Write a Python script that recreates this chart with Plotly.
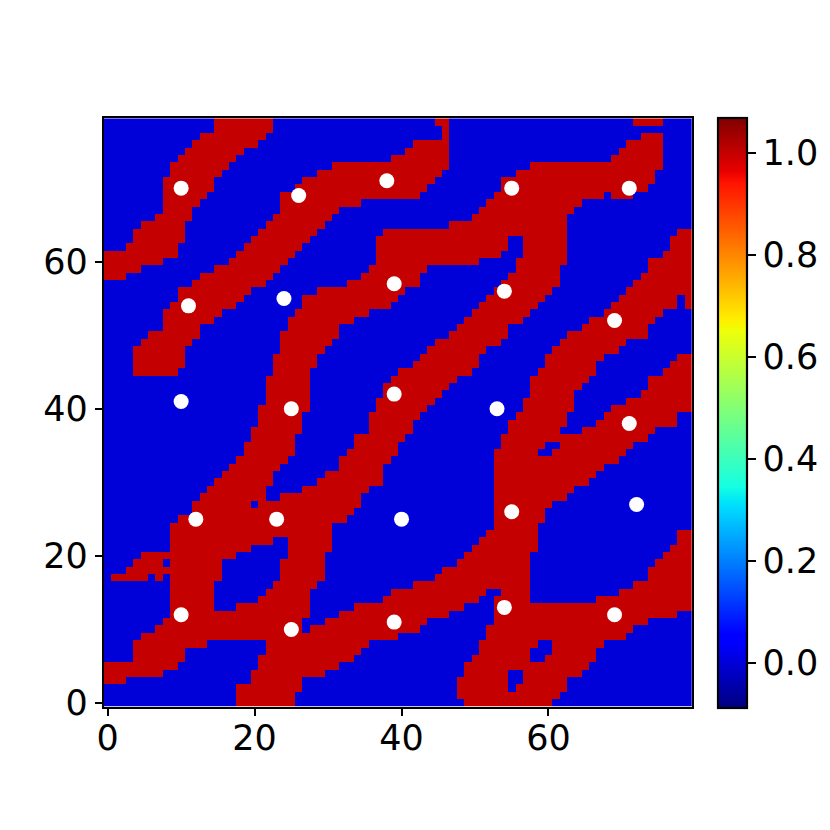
import numpy as np
import plotly.graph_objects as go

# red runs [start, end) per row, listed from row 79 (top) down to row 0
red_runs = [
 [(15,23),(45,47),(72,76)],
 [(15,23),(46,47)],
 [(13,22),(46,47),(73,76)],
 [(12,21),(42,47),(71,76)],
 [(11,19),(41,47),(70,76)],
 [(10,18),(39,47),(69,76)],
 [(9,17),(31,47),(58,76)],
 [(9,16),(29,46),(56,75)],
 [(8,15),(27,45),(54,75)],
 [(8,15),(26,44),(54,74)],
 [(8,14),(24,43),(53,68),(69,72)],
 [(8,13),(24,35),(52,65)],
 [(8,12),(24,32),(51,64)],
 [(7,12),(23,31),(50,63)],
 [(5,11),(22,30),(47,63)],
 [(4,11),(21,29),(38,63),(78,80)],
 [(4,11),(20,28),(37,55),(57,63),(77,80)],
 [(3,10),(19,27),(37,55),(57,63),(77,80)],
 [(0,10),(18,26),(37,54),(57,63),(76,80)],
 [(0,8),(17,25),(37,51),(56,63),(74,80)],
 [(0,5),(15,24),(36,44),(56,62),(74,80)],
 [(0,3),(13,23),(35,43),(55,62),(73,80)],
 [(12,22),(33,43),(54,62),(72,80)],
 [(10,20),(29,41),(53,61),(71,80)],
 [(10,19),(27,40),(52,60),(70,78),(79,80)],
 [(9,18),(27,39),(51,59),(69,78),(79,80)],
 [(8,16),(26,36),(50,58),(68,76)],
 [(8,15),(25,34),(49,57),(66,75)],
 [(8,13),(25,32),(48,55),(65,74)],
 [(6,13),(24,32),(47,55),(63,74)],
 [(5,12),(24,31),(45,54),(62,71)],
 [(4,11),(24,30),(44,52),(61,70)],
 [(4,11),(23,29),(43,51),(60,68),(78,80)],
 [(4,11),(23,29),(42,51),(60,67),(77,80)],
 [(4,10),(23,28),(40,50),(59,67),(76,80)],
 [(22,28),(39,48),(58,66),(74,80)],
 [(22,28),(38,47),(58,65),(74,80)],
 [(22,28),(38,46),(58,64),(73,80)],
 [(22,28),(37,45),(57,64),(71,80)],
 [(21,28),(37,44),(57,64),(69,80)],
 [(21,27),(36,43),(56,63),(68,78)],
 [(21,27),(36,42),(55,63),(67,78)],
 [(20,27),(36,42),(55,62),(65,75)],
 [(20,26),(34,41),(54,74)],
 [(19,26),(34,40),(54,60),(62,72)],
 [(19,26),(33,40),(53,59),(61,71)],
 [(18,25),(32,39),(53,70)],
 [(17,24),(32,38),(53,68)],
 [(16,23),(30,38),(53,67)],
 [(15,23),(29,38),(53,66)],
 [(14,22),(27,36),(53,64)],
 [(13,22),(24,35),(53,63)],
 [(12,20),(21,35),(53,61)],
 [(12,34),(53,60)],
 [(10,33),(53,60)],
 [(9,31),(53,59)],
 [(9,31),(52,59),(78,80)],
 [(9,23),(25,31),(51,59),(78,80)],
 [(9,20),(25,31),(50,59),(77,80)],
 [(5,18),(25,30),(49,58),(76,80)],
 [(4,8),(9,16),(24,30),(48,58),(75,80)],
 [(3,16),(24,30),(46,58),(74,80)],
 [(1,6),(7,8),(9,16),(24,30),(45,58),(74,80)],
 [(9,15),(23,29),(42,58),(72,80)],
 [(9,15),(22,28),(39,52),(54,58),(70,80)],
 [(9,15),(21,28),(38,51),(53,58),(67,80)],
 [(9,15),(18,28),(34,49),(53,80)],
 [(9,28),(32,47),(53,78)],
 [(8,27),(30,44),(53,74)],
 [(7,27),(28,43),(52,72)],
 [(5,40),(52,71)],
 [(4,14),(22,36),(51,59),(61,68)],
 [(4,11),(22,35),(51,58),(61,67)],
 [(4,11),(21,34),(50,58),(60,67)],
 [(0,10),(21,32),(49,66)],
 [(0,8),(20,30),(49,55),(57,65)],
 [(0,3),(20,27),(48,55),(57,63)],
 [(18,27),(48,55),(56,63)],
 [(18,26),(48,62)],
 [(18,26),(49,61)],
]
dots_x = [10,26,38,55,71,11,24,39,54,69,10,25,39,53,71,12,23,40,55,72,10,25,39,54,69]
dots_y = [70,69,71,70,70,54,55,57,56,52,41,40,42,40,38,25,25,25,26,27,12,10,11,13,12]
axis_ticks = [0, 20, 40, 60]
cbar_ticks = [0.0, 0.2, 0.4, 0.6, 0.8, 1.0]
z_low, z_high = -0.089, 1.069

grid = np.zeros((80, 80))
for i, runs in enumerate(red_runs):
    for a, b in runs:
        grid[79 - i, a:b] = 1.0

# matplotlib jet expressed as plotly stops
r = [(0,0),(0.35,0),(0.66,1),(0.89,1),(1,0.5)]
g = [(0,0),(0.125,0),(0.375,1),(0.64,1),(0.91,0),(1,0)]
b_ = [(0,0.5),(0.11,1),(0.34,1),(0.65,0),(1,0)]
stops = sorted({p for s in (r, g, b_) for p, _ in s})
def ch(s, p):
    return round(255 * float(np.interp(p, [q[0] for q in s], [q[1] for q in s])))
jet = [[p, f"rgb({ch(r,p)},{ch(g,p)},{ch(b_,p)})"] for p in stops]

W = H = 830
L, R, T, B = 104.0, 691.7, 118.3, 706.7
font = dict(family="DejaVu Sans", size=35, color="black")

fig = go.Figure()
fig.add_trace(go.Heatmap(
    z=grid, colorscale=jet, zmin=z_low, zmax=z_high, hoverinfo="skip",
    colorbar=dict(
        x=717.5 / W, xanchor="left", y=1 - 118 / H, yanchor="top",
        len=590 / H, lenmode="fraction", thickness=29, thicknessmode="pixels",
        xpad=0, ypad=0, outlinewidth=2.2, outlinecolor="black",
        ticks="outside", ticklen=8, tickwidth=2, tickcolor="black",
        tickvals=cbar_ticks, tickformat=".1f", tickfont=font,
    ),
))
fig.add_trace(go.Scatter(
    x=dots_x, y=dots_y, mode="markers", hoverinfo="skip", showlegend=False,
    marker=dict(color="white", size=15, line=dict(width=0)),
))
axis = dict(
    automargin=False,
    showgrid=False, zeroline=False, showline=True, linecolor="black", linewidth=2.2,
    mirror=True, ticks="outside", ticklen=7, tickwidth=2, tickcolor="black",
    tickvals=axis_ticks, tickfont=font, range=[-0.5, 79.5],
)
fig.update_layout(
    width=W, height=H, margin=dict(l=0, r=0, t=0, b=0, pad=0, autoexpand=False),
    paper_bgcolor="white", plot_bgcolor="white", showlegend=False,
    xaxis=dict(axis, domain=[L / W, R / W], ticklabelstandoff=-8),
    yaxis=dict(axis, domain=[1 - B / H, 1 - T / H]),
)
fig.write_html("out.html", config=dict(displayModeBar=False),
               post_script="document.body.style.margin='0';")
